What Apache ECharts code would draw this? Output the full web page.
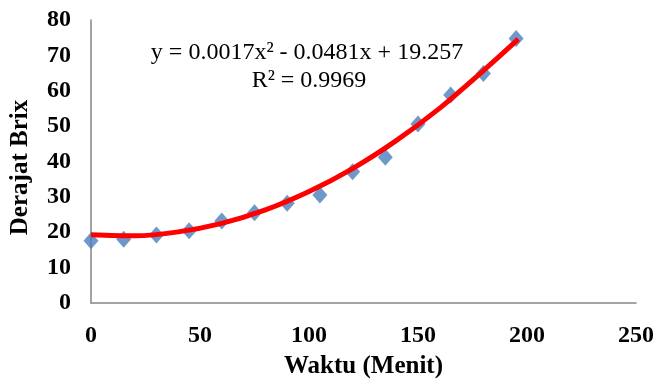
<!DOCTYPE html>
<html>
<head>
<meta charset="utf-8">
<script src="https://cdn.jsdelivr.net/npm/echarts@6/dist/echarts.min.js"></script>
<style>
html,body{margin:0;padding:0;background:#fff;}
#chart{width:656px;height:380px;}
</style>
</head>
<body>
<div id="chart"></div>
<script>
// Observed data (time in minutes, Brix degree)
var timeMinutes = [0, 15, 30, 45, 60, 75, 90, 105, 120, 135, 150, 165, 180, 195];
var brixValues = [17.6, 18.0, 19.2, 20.4, 23.2, 25.5, 28.2, 30.5, 37.1, 41.2, 50.6, 58.8, 64.9, 74.8];
// Trendline values
var trendX = [0, 20, 40, 60, 80, 100, 120, 140, 160, 180, 196];
var trendY = [19.3, 19.0, 20.1, 22.5, 26.3, 31.5, 38.0, 45.9, 55.1, 65.7, 74.6];
// Text labels
var xAxisTitle = 'Waktu (Menit)';
var yAxisTitle = 'Derajat Brix';
var equationText = 'y = 0.0017x² - 0.0481x + 19.257';
var r2Text = 'R² = 0.9969';

var font = '"Liberation Serif", "Times New Roman", serif';
var chart = echarts.init(document.getElementById('chart'), null, {renderer: 'canvas'});

function pairs(xs, ys) { return xs.map(function (x, i) { return [x, ys[i]]; }); }

chart.setOption({
  animation: false,
  backgroundColor: '#ffffff',
  grid: {left: 91, right: 20, top: 20, bottom: 77, containLabel: false, outerBoundsMode: 'none'},
  title: [
    {text: equationText, left: 302, top: 36, textAlign: 'center',
     textStyle: {fontFamily: font, fontSize: 24, fontWeight: 'normal', color: '#000'}},
    {text: r2Text, left: 304, top: 64, textAlign: 'center',
     textStyle: {fontFamily: font, fontSize: 24, fontWeight: 'normal', color: '#000'}}
  ],
  xAxis: {
    type: 'value', min: 0, max: 250, interval: 50,
    name: xAxisTitle, nameLocation: 'middle', nameGap: 51,
    nameTextStyle: {fontFamily: font, fontSize: 25, fontWeight: 'bold', color: '#000'},
    axisLine: {show: true, lineStyle: {color: '#868686', width: 1.5}},
    axisTick: {show: false},
    splitLine: {show: false},
    axisLabel: {fontFamily: font, fontSize: 24, fontWeight: 'bold', color: '#000', margin: 21}
  },
  yAxis: {
    type: 'value', min: 0, max: 80, interval: 10,
    name: yAxisTitle, nameLocation: 'middle', nameGap: 58, nameRotate: 90,
    nameTextStyle: {fontFamily: font, fontSize: 25, fontWeight: 'bold', color: '#000', padding: [0, 12, 0, 0]},
    axisLine: {show: true, lineStyle: {color: '#868686', width: 1.5}},
    axisTick: {show: false},
    splitLine: {show: false},
    axisLabel: {fontFamily: font, fontSize: 24, fontWeight: 'bold', color: '#000', margin: 20}
  },
  series: [
    {
      type: 'scatter',
      data: pairs(timeMinutes, brixValues),
      symbol: 'diamond', symbolSize: [15, 17],
      itemStyle: {color: '#4a7ebb'},
      z: 2
    },
    {
      type: 'line',
      data: pairs(trendX, trendY),
      smooth: 0.3, showSymbol: false, symbol: 'none',
      lineStyle: {color: '#ff0000', width: 5},
      z: 3
    }
  ]
});
</script>
</body>
</html>
